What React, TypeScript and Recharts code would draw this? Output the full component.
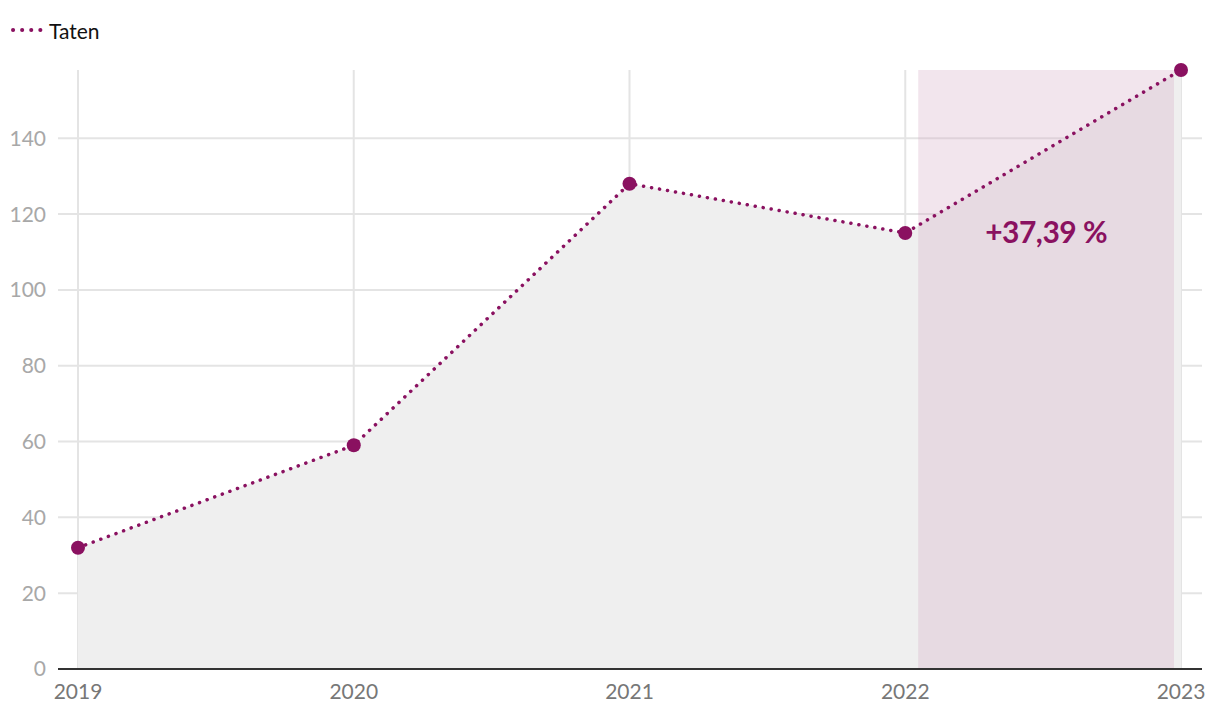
import {
  ComposedChart, Area, Line, XAxis, YAxis, CartesianGrid, ReferenceArea, Legend, Label,
} from 'recharts'

const years = [2019, 2020, 2021, 2022, 2023]
const taten = [32, 59, 128, 115, 158]
const yTicks = [0, 20, 40, 60, 80, 100, 120, 140]

const data = years.map((year, i) => ({ year, taten: taten[i] }))

const PURPLE = '#8a1160'
const FONT = 'Lato, "Noto Sans", sans-serif'

const prev = taten[taten.length - 2]
const last = taten[taten.length - 1]
const pct = ((last / prev - 1) * 100).toFixed(2).replace('.', ',')

function TatenLegend() {
  return (
    <div style={{ display: 'flex', alignItems: 'center', height: 30, fontFamily: FONT, fontSize: 21, color: '#111' }}>
      <svg width={34} height={8} style={{ marginRight: 5 }}>
        <line x1={3} y1={4} x2={31} y2={4} stroke={PURPLE} strokeWidth={4}
          strokeDasharray="0.1 9" strokeLinecap="round" />
      </svg>
      Taten
    </div>
  )
}

// band slightly inset from the year gridlines
function Band(props: any) {
  const { x, y, width, height } = props
  return <rect x={x + 13} y={y} width={width - 20} height={height} fill="#d5abc5" fillOpacity={0.31} />
}

function PctLabel(props: any) {
  const { viewBox } = props
  const cx = viewBox.x + 13 + (viewBox.width - 20) / 2
  const cy = viewBox.y + viewBox.height * (1 - prev / 158) - 2
  return (
    <text x={cx} y={cy} textAnchor="middle" dominantBaseline="central"
      fill={PURPLE} fontFamily={FONT} fontWeight={700} fontSize={30} letterSpacing={-0.5}>
      +{pct} %
    </text>
  )
}

export default function App() {
  return (
    <div style={{ position: 'absolute', left: 0, top: 0, background: '#fff' }}>
      <ComposedChart width={1220} height={720} data={data}
        margin={{ top: 40, right: 18, bottom: 11, left: 0 }}>
        <Legend verticalAlign="top" align="left" content={<TatenLegend />}
          wrapperStyle={{ top: 15, left: 10, height: 30 }} />
        <CartesianGrid stroke="#e4e4e4" strokeWidth={2} syncWithTicks />
        <XAxis dataKey="year" type="number" domain={[2019, 2023]} ticks={years}
          padding={{ left: 20, right: 21 }} tickLine={false} tickSize={0} tickMargin={15}
          axisLine={{ stroke: '#333', strokeWidth: 2 }} height={40}
          tick={{ fontSize: 21, fill: '#777', fontFamily: FONT }} />
        <YAxis domain={[0, 158]} ticks={yTicks} width={58} axisLine={false} tickLine={false}
          tickSize={0} tickMargin={12} interval={0}
          tick={{ fontSize: 21, fill: '#a8a8a8', fontFamily: FONT }} />
        <Area dataKey="taten" type="linear" stroke="none" fill="#efefef" fillOpacity={1}
          isAnimationActive={false} dot={false} activeDot={false} />
        <ReferenceArea x1={years[3]} x2={years[4]} y1={0} y2={158} shape={<Band />} ifOverflow="visible">
          <Label content={<PctLabel />} />
        </ReferenceArea>
        <Line dataKey="taten" type="linear" stroke={PURPLE} strokeWidth={3.5}
          strokeDasharray="0.1 8" strokeLinecap="round"
          dot={{ r: 7, fill: PURPLE, stroke: 'none' }} activeDot={false}
          isAnimationActive={false} />
      </ComposedChart>
    </div>
  )
}
